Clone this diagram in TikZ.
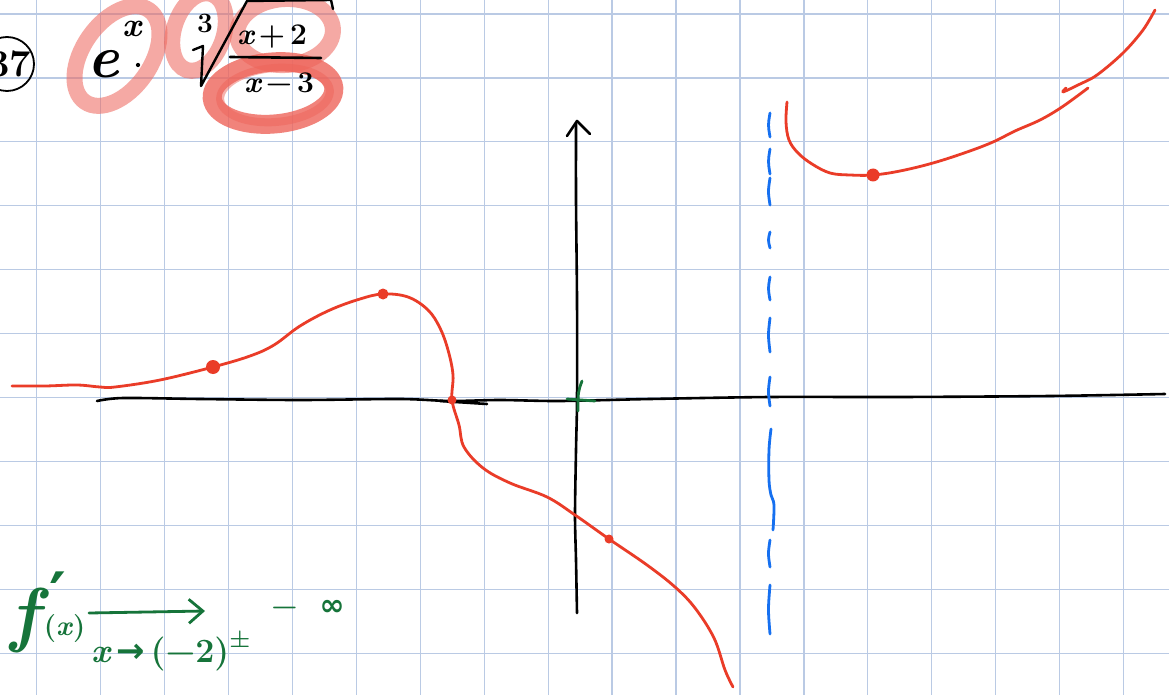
\documentclass[tikz,border=0pt]{standalone}
\usepackage{fontspec}
\newfontfamily\symf{DejaVu Sans}
\usetikzlibrary{arrows.meta}
\definecolor{gridc}{RGB}{186,202,228}
\definecolor{redc}{RGB}{234,60,40}
\definecolor{bluec}{RGB}{22,112,240}
\definecolor{greenc}{RGB}{22,116,58}
\definecolor{hl}{RGB}{238,100,90}
\begin{document}
\begin{tikzpicture}[x=1pt,y=-1pt,
  gridline/.style={draw=gridc, line width=1.2pt},
  hlstroke/.style={draw=hl, draw opacity=0.55, line width=16pt},
  hlstrong/.style={draw=hl, draw opacity=0.8, line width=19pt},
  redline/.style={draw=redc, line width=2.8pt, line cap=round, line join=round},
  blueline/.style={draw=bluec, line width=2.8pt, line cap=round},
  blackline/.style={draw=black, line width=2.6pt, line cap=round, line join=round},
  greenline/.style={draw=greenc, line width=2.8pt, line cap=round, line join=round},
  pt/.style={circle, fill=redc, inner sep=0pt},
  ink/.style={inner sep=0pt, text=black, font=\bfseries},
  gink/.style={inner sep=0pt, text=greenc, font=\bfseries}]
\useasboundingbox (0,0) rectangle (1169,695);
\fill[white] (0,0) rectangle (1169,695);
% grid
\foreach \i in {0,...,17} \draw[gridline] ({36.5+63.95*\i},0) -- ({36.5+63.95*\i},695);
\foreach \j in {0,...,10} \draw[gridline] (0,{14+63.95*\j}) -- (1169,{14+63.95*\j});
% highlighter marks
\draw[hlstroke, shift={(117,56)}, rotate=55] (0,0) ellipse (56 and 34);
\draw[hlstroke, shift={(199,32)}, rotate=-18] (0,0) ellipse (25 and 40);
\draw[hlstroke, shift={(285,32)}, rotate=4] (0,0) ellipse (48 and 33);
\draw[hlstrong, shift={(273,93)}, rotate=5] (0,0) ellipse (61 and 31);
\draw[draw=hl, draw opacity=0.5, line width=8pt, shift={(275,95)}, rotate=5] (0,0) ellipse (55 and 27);
% exercise number and formula
\node[draw, circle, minimum size=54pt, line width=1.8pt] (ring) at (7,64) {};
\node[ink, anchor=base east] (num) at (31,77) {\fontsize{38}{38}\selectfont 37};
\node[ink, anchor=base] (e) at (103,78) {\fontsize{60}{60}\selectfont\itshape e};
\node[ink, anchor=base] (ex) at (132,37) {\fontsize{34}{34}\selectfont\itshape x};
\node[circle, fill=black, inner sep=1.5pt] (dot) at (138,65) {};
\node[ink, anchor=base] (idx) at (205,33) {\fontsize{28}{28}\selectfont 3};
\draw[blackline, line width=2.4pt] (193,50) -- (203,46) -- (201,86) -- (247,1) -- (331,0) -- (333,9);
\node[ink, anchor=base] (num2) at (272,45) {\fontsize{30}{30}\selectfont\itshape x\,\upshape+\,2};
\draw[blackline] (230,57) -- (321,58);
\node[ink, anchor=base] (den) at (279,93) {\fontsize{30}{30}\selectfont\itshape x\,\upshape−\,3};
% axes
\draw[blackline] plot[smooth, tension=0.5] coordinates {(97,401) (123,398) (200,399) (300,400) (400,399) (450,401) (500,400) (560,401) (650,399) (770,397) (900,397) (1050,396) (1165,394)};
\draw[blackline] (440,401) -- (487,404);
\draw[blackline] plot[smooth, tension=0.5] coordinates {(577,613) (576,560) (575,515) (576,450) (577,400) (577,300) (576,200) (576,124)};
\draw[blackline] (567,136) -- (577,121) -- (590,134);
% green origin mark
\draw[greenline] (582,381) .. controls (578,392) .. (578,411);
\draw[greenline] (567,399) -- (595,401);
% asymptote
\foreach \a/\b in {113/137,149/174,178/205,232/248,277/300,318/352,377/406,540/567,585/634}
  \draw[blueline] (770,\a) .. controls (768,{(\a+\b)/2}) .. (770,\b);
\draw[blueline] plot[smooth, tension=0.6] coordinates {(771,429) (769,450) (769,480) (771,495) (774,505) (773,530)};
% red curves
\draw[redline] plot[smooth, tension=0.6] coordinates {(12,386) (45,386) (77,385) (100,387) (115,387) (160,380) (213,367) (250,356) (274,345) (300,326) (330,310) (360,299) (383,294) (408,297) (428,310) (440,328) (448,350) (453,375) (452,400) (459,425) (464,447) (483,468) (510,483) (547,497) (575,515) (609,539) (647,565) (675,587) (695,608) (714,638) (725,670) (733,687)};
\draw[redline] plot[smooth, tension=0.6] coordinates {(787,102) (786,122) (789,140) (798,153) (812,164) (830,173) (850,175) (873,175) (900,171) (933,163) (967,152) (993,142) (1015,131) (1040,120) (1062,107) (1088,88)};
\draw[redline] plot[smooth, tension=0.55] coordinates {(1155,10) (1143,30) (1123,53) (1097,75) (1078,85) (1063,92) (1066,88)};
\node[pt, minimum size=14pt] (p1) at (213,367) {};
\node[pt, minimum size=11pt] (p2) at (383,294) {};
\node[pt, minimum size=9pt] (p3) at (452,400) {};
\node[pt, minimum size=9pt] (p4) at (609,539) {};
\node[pt, minimum size=13pt] (p5) at (873,175) {};
% green limit note
\node[gink, anchor=base west] (fpx) at (10,638) {{\fontsize{72}{72}\selectfont\itshape f}\hspace{10pt}\raisebox{20pt}{\fontsize{64}{64}\selectfont\symf ′}\hspace{-22pt}\raisebox{3pt}{\fontsize{28}{28}\selectfont (\textit{x})}};
\coordinate (arrS) at (89,613);
\coordinate (arrE) at (205,611);
\draw[greenline, -{Straight Barb[length=14pt, width=24pt]}] (arrS) -- (arrE);
\node[gink, anchor=base] (lim) at (171,662) {\fontsize{34}{34}\selectfont\itshape x\,{\symf\upshape →}\,\upshape(−2)\raisebox{15pt}{\fontsize{24}{24}\selectfont ±}};
\node[gink] (minf) at (308,608) {\fontsize{30}{30}\selectfont −\hspace{22pt}{\symf ∞}};
\end{tikzpicture}
\end{document}
